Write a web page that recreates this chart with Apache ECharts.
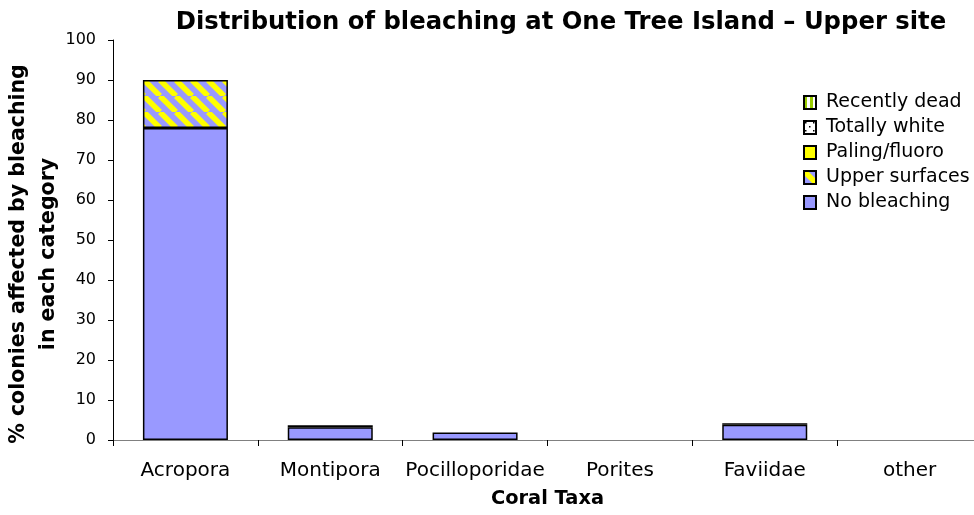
<!DOCTYPE html>
<html><head><meta charset="utf-8">
<script src="https://cdn.jsdelivr.net/npm/echarts@6/dist/echarts.min.js"></script>
<style>html,body{margin:0;padding:0;background:#fff}#c{width:974px;height:515px}</style>
</head><body><div id="c"></div>
<script>
const categories = ['Acropora','Montipora','Pocilloporidae','Porites','Faviidae','other'];
const noBleaching = [78, 3.2, 1.9, 0, 3.8, 0];
const upperSurfaces = [12, 0.5, 0, 0, 0, 0];
const palingFluoro = [0, 0, 0, 0, 0, 0];
const totallyWhite = [0, 0, 0, 0, 0.4, 0];
const recentlyDead = [0, 0, 0, 0, 0, 0];
const yTicks = [0,10,20,30,40,50,60,70,80,90,100];

function mk(w,h,fn){const c=document.createElement('canvas');c.width=w;c.height=h;fn(c.getContext('2d'),w,h);return c;}
const upperPat = mk(16,16,(g,w,h)=>{g.fillStyle='#9999FF';g.fillRect(0,0,w,h);g.strokeStyle='#FFFF00';g.lineWidth=5.5;
  for(const k of [-16,0,16]){g.beginPath();g.moveTo(k,0);g.lineTo(k+16,16);g.stroke();}});
const deadPat = mk(6,6,(g,w,h)=>{g.fillStyle='#fff';g.fillRect(0,0,w,h);g.fillStyle='#99CC00';g.fillRect(0,0,3,h);});
const whitePat = mk(8,8,(g,w,h)=>{g.fillStyle='#fff';g.fillRect(0,0,w,h);g.fillStyle='#000';g.fillRect(1,1,1.5,1.5);g.fillRect(5,5,1.5,1.5);});

const font = 'DejaVu Sans';
const nz = a => a.map(v => v === 0 ? null : v);
function ser(name, data, color){
  return {name, type:'bar', stack:'s', data:nz(data), barWidth:85,
    itemStyle:{color, borderColor:'#000', borderWidth:1.5}, emphasis:{disabled:true}};
}
const chart = echarts.init(document.getElementById('c'), null, {renderer:'canvas'});
chart.setOption({
  animation:false,
  backgroundColor:'#fff',
  title:{text:'Distribution of bleaching at One Tree Island – Upper site', left:556, textAlign:'center', top:6,
    textStyle:{fontFamily:font, fontWeight:'bold', fontSize:24.3, color:'#000'}},
  grid:{left:113, top:40, width:869, height:400, containLabel:false, outerBoundsMode:'none'},
  legend:{left:803, top:93, padding:0, orient:'vertical', itemWidth:12, itemHeight:13, itemGap:6, icon:'rect',
    data:['Recently dead','Totally white','Paling/fluoro','Upper surfaces','No bleaching'],
    textStyle:{fontFamily:font, fontSize:19, lineHeight:19, color:'#000', padding:[0,0,0,5]}},
  xAxis:{type:'category', data:categories, name:'Coral Taxa', nameLocation:'middle', nameGap:49,
    nameMoveOverlap:false,
    nameTextStyle:{fontFamily:font, fontWeight:'bold', fontSize:19.4, color:'#000'},
    axisLine:{lineStyle:{color:'#808080', width:1}},
    axisTick:{show:true, interval:0, length:6, lineStyle:{color:'#000'}},
    axisLabel:{interval:0, hideOverlap:false, fontFamily:font, fontSize:20, color:'#000', margin:21}},
  yAxis:{type:'value', min:yTicks[0], max:yTicks[yTicks.length-1], interval:10,
    name:'% colonies affected by bleaching\nin each category', nameLocation:'middle', nameGap:49,
    nameMoveOverlap:false,
    nameTextStyle:{fontFamily:font, fontWeight:'bold', fontSize:20.5, color:'#000', lineHeight:30, padding:[0,28,0,0]},
    axisLine:{show:true, lineStyle:{color:'#000', width:1}},
    axisTick:{show:true, length:5, lineStyle:{color:'#000'}},
    splitLine:{show:false},
    axisLabel:{fontFamily:font, fontSize:16, color:'#000', margin:17}},
  series:[
    ser('No bleaching', noBleaching, '#9999FF'),
    ser('Upper surfaces', upperSurfaces, {image:upperPat, repeat:'repeat'}),
    ser('Paling/fluoro', palingFluoro, '#FFFF00'),
    ser('Totally white', totallyWhite, {image:whitePat, repeat:'repeat'}),
    ser('Recently dead', recentlyDead, {image:deadPat, repeat:'repeat'})
  ]
});
</script></body></html>
